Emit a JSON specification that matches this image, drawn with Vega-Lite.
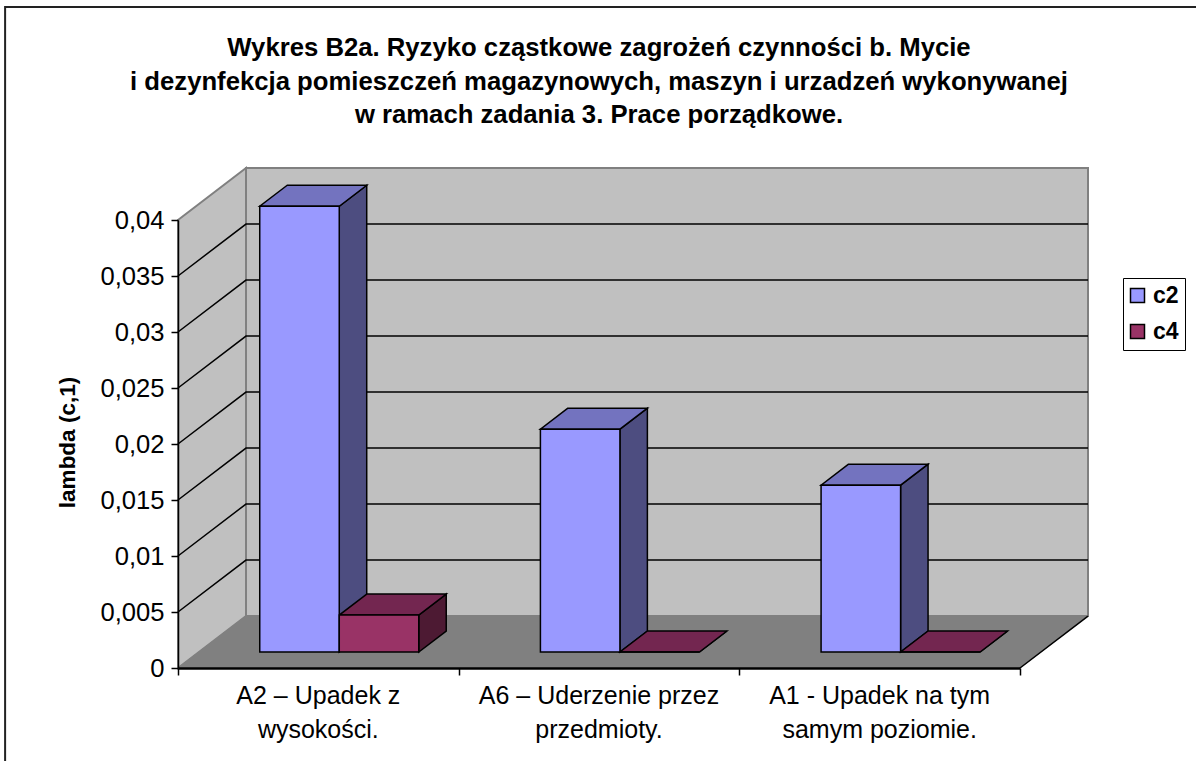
{
"$schema":"https://vega.github.io/schema/vega-lite/v6.json",
"autosize":"none","width":842,"height":448,
"padding":{"left":178,"top":220,"right":176,"bottom":93},
"background":"white",
"config":{"view":{"stroke":null},"font":"Liberation Sans"},
"title":{"text":["Wykres B2a. Ryzyko cząstkowe zagrożeń czynności b. Mycie","i dezynfekcja pomieszczeń magazynowych, maszyn i urzadzeń wykonywanej","w ramach zadania 3. Prace porządkowe."],"anchor":"middle","frame":"group","font":"Liberation Sans","fontWeight":"bold","fontSize":25.7,"lineHeight":33.5,"offset":-123,"color":"black"},
"datasets":{
"bars":[
{"category":"A2 – Upadek z\nwysokości.","series":"c2","value":0.0398},
{"category":"A2 – Upadek z\nwysokości.","series":"c4","value":0.0033},
{"category":"A6 – Uderzenie przez\nprzedmioty.","series":"c2","value":0.0199},
{"category":"A6 – Uderzenie przez\nprzedmioty.","series":"c4","value":0},
{"category":"A1 - Upadek na tym\nsamym poziomie.","series":"c2","value":0.0149},
{"category":"A1 - Upadek na tym\nsamym poziomie.","series":"c4","value":0}
],
"ticks":[{"tick":0.005},{"tick":0.01},{"tick":0.015},{"tick":0.02},{"tick":0.025},{"tick":0.03},{"tick":0.035}],
"wall":[{"depth":0},{"depth":1}],
"frame":[{"left":-0.616,"right":3.7,"top":0.05902,"bottom":-0.01}]
},
"layer":[
{"data":{"name":"frame"},"mark":{"type":"rect","fill":"white","stroke":"#222222","strokeWidth":2},
 "encoding":{
  "x":{"field":"left","type":"quantitative","scale":{"domain":[0,3],"nice":false,"zero":false},
   "axis":{"values":[0,1,2,3],"labels":false,"title":null,"grid":false,"tickSize":7,"tickColor":"black","tickWidth":1.5,"domainColor":"black","domainWidth":2.5,"zindex":1}},
  "x2":{"field":"right"},
  "y":{"field":"bottom","type":"quantitative","scale":{"domain":[0,0.04],"nice":false,"zero":false},
   "axis":{"values":[0,0.005,0.01,0.015,0.02,0.025,0.03,0.035,0.04],"labelExpr":"replace(toString(datum.value),'.',',')","labelFontSize":25.6,"labelColor":"black","labelPadding":7,"labelFont":"Liberation Sans","grid":false,"tickSize":7,"tickColor":"black","tickWidth":1.5,"domainColor":"black","domainWidth":1.5,"zindex":1,
    "title":"lambda (c,1)","titleFont":"Liberation Sans","titleFontWeight":"bold","titleFontSize":22.5,"titleColor":"black","titleX":-111,"titleY":222,"titleAngle":-90,"titleAlign":"center","titleBaseline":"middle"}},
  "y2":{"field":"top"}
 }},
{"data":{"name":"wall"},"transform":[{"calculate":"datum.depth*0.2423","as":"x"},{"calculate":"datum.depth*0.00464","as":"y0"},{"calculate":"0.04+datum.depth*0.00464","as":"y1"}],
 "mark":{"type":"area","fill":"#C0C0C0","stroke":"#808080","strokeWidth":2},
 "encoding":{"x":{"field":"x","type":"quantitative","scale":{"domain":[0,3],"nice":false,"zero":false}},"y":{"field":"y1","type":"quantitative","scale":{"domain":[0,0.04],"nice":false,"zero":false}},"y2":{"field":"y0"}}},
{"data":{"name":"wall"},"transform":[{"calculate":"datum.depth*0.2423","as":"x0"},{"calculate":"3+datum.depth*0.2423","as":"x1"},{"calculate":"datum.depth*0.00464","as":"y"}],
 "mark":{"type":"area","orient":"horizontal","fill":"#808080","stroke":"#808080","strokeWidth":1},
 "encoding":{"y":{"field":"y","type":"quantitative","scale":{"domain":[0,0.04],"nice":false,"zero":false}},"x":{"field":"x0","type":"quantitative","scale":{"domain":[0,3],"nice":false,"zero":false}},"x2":{"field":"x1"}}},
{"data":{"name":"wall"},"transform":[{"filter":"datum.depth==1"},{"calculate":"0.2423","as":"x0"},{"calculate":"3.2423","as":"x1"},{"calculate":"0.00464","as":"y0"},{"calculate":"0.04464","as":"y1"}],
 "mark":{"type":"rect","fill":"#C0C0C0","stroke":"#808080","strokeWidth":2},
 "encoding":{"x":{"field":"x0","type":"quantitative","scale":{"domain":[0,3],"nice":false,"zero":false}},"x2":{"field":"x1"},"y":{"field":"y1","type":"quantitative","scale":{"domain":[0,0.04],"nice":false,"zero":false}},"y2":{"field":"y0"}}},
{"data":{"name":"wall"},"transform":[{"calculate":"3+datum.depth*0.2423","as":"x"},{"calculate":"datum.depth*0.00464","as":"y"}],
 "mark":{"type":"line","color":"black","strokeWidth":1.5},
 "encoding":{"x":{"field":"x","type":"quantitative","scale":{"domain":[0,3],"nice":false,"zero":false}},"y":{"field":"y","type":"quantitative","scale":{"domain":[0,0.04],"nice":false,"zero":false}}}},
{"data":{"name":"ticks"},"transform":[{"calculate":"[0,1,2]","as":"p"},{"flatten":["p"]},{"calculate":"datum.p==0?0:datum.p==1?0.2423:3.2423","as":"x"},{"calculate":"datum.tick+(datum.p>0?0.00464:0)","as":"y"}],
 "mark":{"type":"line","color":"black","strokeWidth":1.5},
 "encoding":{"x":{"field":"x","type":"quantitative","scale":{"domain":[0,3],"nice":false,"zero":false}},"y":{"field":"y","type":"quantitative","scale":{"domain":[0,0.04],"nice":false,"zero":false}},"detail":{"field":"tick"}}},
{"data":{"name":"bars"},"transform":[{"filter":"datum.series=='c2'"},{"calculate":"indexof(['A2','A6','A1'],slice(datum.category,0,2))","as":"i"},{"calculate":"datum.i+0.5-0.2833","as":"xL"},{"calculate":"[0.3077,0.7115]","as":"d"},{"flatten":["d"]},{"calculate":"datum.xL+0.2833+datum.d*0.2423","as":"sx"},{"calculate":"datum.d*0.00464","as":"sy0"},{"calculate":"datum.value+datum.d*0.00464","as":"sy1"}],
 "mark":{"type":"area","fill":"#4D4D80","stroke":"black","strokeWidth":1.5},
 "encoding":{"x":{"field":"sx","type":"quantitative","scale":{"domain":[0,3],"nice":false,"zero":false}},"y":{"field":"sy1","type":"quantitative","scale":{"domain":[0,0.04],"nice":false,"zero":false}},"y2":{"field":"sy0"},"detail":{"field":"category"}}},
{"data":{"name":"bars"},"transform":[{"filter":"datum.series=='c2'"},{"calculate":"indexof(['A2','A6','A1'],slice(datum.category,0,2))","as":"i"},{"calculate":"datum.i+0.5-0.2833","as":"xL"},{"calculate":"[0.3077,0.7115]","as":"d"},{"flatten":["d"]},{"calculate":"datum.xL+datum.d*0.2423","as":"tx0"},{"calculate":"datum.xL+0.2833+datum.d*0.2423","as":"tx1"},{"calculate":"datum.value+datum.d*0.00464","as":"ty"}],
 "mark":{"type":"area","orient":"horizontal","fill":"#7373BF","stroke":"black","strokeWidth":1.5},
 "encoding":{"y":{"field":"ty","type":"quantitative","stack":null,"scale":{"domain":[0,0.04],"nice":false,"zero":false}},"x":{"field":"tx0","type":"quantitative","stack":null,"scale":{"domain":[0,3],"nice":false,"zero":false}},"x2":{"field":"tx1"},"detail":{"field":"category"}}},
{"data":{"name":"bars"},"transform":[{"filter":"datum.series=='c4'"},{"calculate":"indexof(['A2','A6','A1'],slice(datum.category,0,2))","as":"i"},{"calculate":"datum.i+0.5","as":"xL"},{"calculate":"[0.3077,0.7115]","as":"d"},{"flatten":["d"]},{"calculate":"datum.xL+0.2833+datum.d*0.2423","as":"sx"},{"calculate":"datum.d*0.00464","as":"sy0"},{"calculate":"datum.value+datum.d*0.00464","as":"sy1"}],
 "mark":{"type":"area","fill":"#4D1A33","stroke":"black","strokeWidth":1.5},
 "encoding":{"x":{"field":"sx","type":"quantitative","scale":{"domain":[0,3],"nice":false,"zero":false}},"y":{"field":"sy1","type":"quantitative","scale":{"domain":[0,0.04],"nice":false,"zero":false}},"y2":{"field":"sy0"},"detail":{"field":"category"}}},
{"data":{"name":"bars"},"transform":[{"filter":"datum.series=='c4'"},{"calculate":"indexof(['A2','A6','A1'],slice(datum.category,0,2))","as":"i"},{"calculate":"datum.i+0.5","as":"xL"},{"calculate":"[0.3077,0.7115]","as":"d"},{"flatten":["d"]},{"calculate":"datum.xL+datum.d*0.2423","as":"tx0"},{"calculate":"datum.xL+0.2833+datum.d*0.2423","as":"tx1"},{"calculate":"datum.value+datum.d*0.00464","as":"ty"}],
 "mark":{"type":"area","orient":"horizontal","fill":"#732650","stroke":"black","strokeWidth":1.5},
 "encoding":{"y":{"field":"ty","type":"quantitative","stack":null,"scale":{"domain":[0,0.04],"nice":false,"zero":false}},"x":{"field":"tx0","type":"quantitative","stack":null,"scale":{"domain":[0,3],"nice":false,"zero":false}},"x2":{"field":"tx1"},"detail":{"field":"category"}}},
{"data":{"name":"bars"},"transform":[{"calculate":"indexof(['A2','A6','A1'],slice(datum.category,0,2))","as":"i"},{"calculate":"datum.i+0.5+(datum.series=='c2'?-0.2833:0)+0.3077*0.2423","as":"fx0"},{"calculate":"datum.fx0+0.2833","as":"fx1"},{"calculate":"0.3077*0.00464","as":"fy0"},{"calculate":"datum.value+datum.fy0","as":"fy1"}],
 "mark":{"type":"rect","stroke":"black","strokeWidth":1.5},
 "encoding":{"x":{"field":"fx0","type":"quantitative","scale":{"domain":[0,3],"nice":false,"zero":false}},"x2":{"field":"fx1"},"y":{"field":"fy1","type":"quantitative","scale":{"domain":[0,0.04],"nice":false,"zero":false}},"y2":{"field":"fy0"},
  "fill":{"field":"series","type":"nominal","scale":{"domain":["c2","c4"],"range":["#9999FF","#993366"]},
   "legend":{"orient":"none","legendX":945,"legendY":58,"title":null,"strokeColor":"black","fillColor":"white","padding":6,"symbolType":"square","symbolSize":196,"symbolOffset":-3,"symbolStrokeColor":"black","symbolStrokeWidth":1.5,"labelFont":"Liberation Sans","labelFontWeight":"bold","labelFontSize":23,"labelColor":"black","labelOffset":4,"rowPadding":12}}}},
{"data":{"name":"bars"},"transform":[{"filter":"datum.series=='c2'"},{"calculate":"indexof(['A2','A6','A1'],slice(datum.category,0,2))+0.5","as":"cx"},{"calculate":"0","as":"base"}],
 "mark":{"type":"text","lineBreak":"\n","lineHeight":34,"align":"center","baseline":"top","dy":15.5,"fontSize":25,"font":"Liberation Sans","color":"black"},
 "encoding":{"x":{"field":"cx","type":"quantitative","scale":{"domain":[0,3],"nice":false,"zero":false}},"y":{"field":"base","type":"quantitative","scale":{"domain":[0,0.04],"nice":false,"zero":false}},"text":{"field":"category"}}}
]
}
